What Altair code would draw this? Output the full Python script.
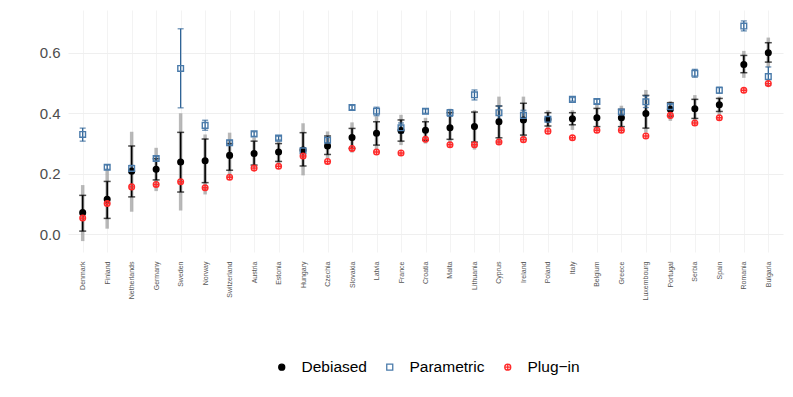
import altair as alt
import pandas as pd

countries = ["Denmark", "Finland", "Netherlands", "Germany", "Sweden", "Norway",
             "Switzerland", "Austria", "Estonia", "Hungary", "Czechia", "Slovakia",
             "Latvia", "France", "Croatia", "Malta", "Lithuania", "Cyprus", "Ireland",
             "Poland", "Italy", "Belgium", "Greece", "Luxembourg", "Portugal", "Serbia",
             "Spain", "Romania", "Bulgaria"]

deb = [0.072, 0.116, 0.209, 0.215, 0.239, 0.243, 0.261, 0.267, 0.272, 0.279, 0.292, 0.320,
       0.334, 0.343, 0.344, 0.352, 0.356, 0.372, 0.378, 0.380, 0.382, 0.385, 0.385, 0.399,
       0.413, 0.415, 0.428, 0.561, 0.600]
deb_lo = [0.011, 0.053, 0.124, 0.180, 0.140, 0.171, 0.212, 0.229, 0.241, 0.226, 0.264, 0.284,
          0.295, 0.308, 0.311, 0.314, 0.305, 0.319, 0.328, 0.358, 0.362, 0.356, 0.356, 0.351,
          0.391, 0.383, 0.406, 0.534, 0.569]
deb_hi = [0.129, 0.175, 0.292, 0.250, 0.337, 0.315, 0.300, 0.308, 0.300, 0.336, 0.325, 0.350,
          0.372, 0.378, 0.372, 0.402, 0.404, 0.424, 0.433, 0.402, 0.402, 0.416, 0.413, 0.459,
          0.435, 0.446, 0.449, 0.591, 0.633]
deb_lo2 = [-0.022, 0.019, 0.075, 0.143, 0.079, 0.132, 0.187, 0.220, 0.232, 0.195, 0.250, 0.270,
           0.280, 0.295, 0.300, 0.300, 0.280, 0.297, 0.310, 0.350, 0.345, 0.345, 0.340, 0.336,
           0.375, 0.370, 0.395, 0.517, 0.551]
deb_hi2 = [0.163, 0.212, 0.339, 0.286, 0.400, 0.330, 0.336, 0.320, 0.310, 0.367, 0.340, 0.370,
           0.390, 0.395, 0.385, 0.415, 0.410, 0.455, 0.455, 0.410, 0.410, 0.430, 0.425, 0.477,
           0.440, 0.460, 0.455, 0.606, 0.650]
par = [0.330, 0.222, 0.218, 0.251, 0.548, 0.360, 0.303, 0.332, 0.318, 0.276, 0.311, 0.419,
       0.407, 0.352, 0.407, 0.402, 0.461, 0.402, 0.393, 0.380, 0.446, 0.439, 0.404, 0.438,
       0.422, 0.532, 0.476, 0.688, 0.521]
par_lo = [0.308, 0.215, 0.205, 0.243, 0.418, 0.344, 0.295, 0.324, 0.312, 0.268, 0.302, 0.412,
          0.392, 0.335, 0.400, 0.390, 0.444, 0.380, 0.375, 0.373, 0.440, 0.432, 0.397, 0.419,
          0.412, 0.519, 0.466, 0.672, 0.492]
par_hi = [0.351, 0.229, 0.228, 0.258, 0.679, 0.377, 0.310, 0.339, 0.324, 0.285, 0.320, 0.426,
          0.420, 0.368, 0.414, 0.412, 0.477, 0.424, 0.410, 0.387, 0.452, 0.446, 0.411, 0.457,
          0.431, 0.545, 0.486, 0.705, 0.553]
plug = [0.054, 0.102, 0.157, 0.165, 0.174, 0.154, 0.189, 0.219, 0.225, 0.259, 0.241, 0.284,
        0.272, 0.269, 0.314, 0.296, 0.296, 0.305, 0.313, 0.341, 0.319, 0.344, 0.344, 0.325,
        0.393, 0.368, 0.385, 0.476, 0.498]

methods = ["Debiased", "Parametric", "Plug\u2212in"]

wide = pd.DataFrame({"country": countries, "deb": deb, "deb_lo": deb_lo, "deb_hi": deb_hi,
                     "deb_lo2": deb_lo2, "deb_hi2": deb_hi2, "par": par, "par_lo": par_lo,
                     "par_hi": par_hi, "plug": plug})

pts = pd.concat([
    pd.DataFrame({"country": countries, "method": methods[0], "value": deb}),
    pd.DataFrame({"country": countries, "method": methods[1], "value": par}),
    pd.DataFrame({"country": countries, "method": methods[2], "value": plug}),
], ignore_index=True)

FONT = "Liberation Sans"
ydom = [-0.058, 0.741]

x = alt.X("country:N", sort=countries, title=None,
          scale=alt.Scale(type="point", padding=0.6),
          axis=alt.Axis(labelAngle=-90, labelFontSize=7, labelColor="#555555", ticks=False,
                        domain=False, labelPadding=9, grid=True, gridColor="#f3f3f3",
                        labelFont=FONT))
ysc = alt.Scale(domain=ydom, nice=False, zero=False)
yaxis = alt.Axis(values=[0, 0.1, 0.2, 0.3, 0.4, 0.5, 0.6, 0.7],
                 labelExpr="round(datum.value*10) % 2 == 0 ? format(datum.value, '.1f') : ''",
                 labelFontSize=15, labelColor="#4d4d4d", ticks=False, domain=False,
                 labelPadding=8, gridColor="#efefef", labelFont=FONT)

base = alt.Chart(wide)

gray = base.mark_rule(color="#8a8a8a", opacity=0.6, strokeWidth=3.5).encode(
    x=x, y=alt.Y("deb_lo2:Q", scale=ysc, axis=yaxis, title=None), y2="deb_hi2:Q")
black = base.mark_rule(color="black", strokeWidth=1.6).encode(
    x=x, y=alt.Y("deb_lo:Q"), y2="deb_hi:Q")
bcap_lo = base.mark_tick(color="black", thickness=1.5, size=7).encode(x=x, y="deb_lo:Q")
bcap_hi = base.mark_tick(color="black", thickness=1.5, size=7).encode(x=x, y="deb_hi:Q")
BLUE = "#2f6497"
blue = base.mark_rule(color=BLUE, strokeWidth=1.3).encode(
    x=x, y=alt.Y("par_lo:Q"), y2="par_hi:Q")
pcap_lo = base.mark_tick(color=BLUE, thickness=1.3, size=6).encode(x=x, y="par_lo:Q")
pcap_hi = base.mark_tick(color=BLUE, thickness=1.3, size=6).encode(x=x, y="par_hi:Q")

circle_plus = "M-1,0A1,1,0,1,1,1,0A1,1,0,1,1,-1,0ZM-1,0L1,0M0,-1L0,1"

points = alt.Chart(pts).mark_point(filled=False, size=32, strokeWidth=1.4, opacity=1).encode(
    x=x,
    y=alt.Y("value:Q"),
    color=alt.Color("method:N", title=None,
                    scale=alt.Scale(domain=methods, range=["black", "#4a7bab", "#ff2a2a"]),
                    legend=alt.Legend(orient="none", legendX=206, legendY=349,
                                      direction="horizontal", labelFontSize=15.5,
                                      labelFont=FONT, labelColor="black", symbolSize=36,
                                      symbolStrokeWidth=1.3, labelOffset=12,
                                      columnPadding=15)),
    fill=alt.Fill("method:N", title=None,
                  scale=alt.Scale(domain=methods, range=["black", "transparent", "transparent"])),
    shape=alt.Shape("method:N", title=None,
                    scale=alt.Scale(domain=methods, range=["circle", "square", circle_plus])),
)

chart = alt.layer(gray, black, bcap_lo, bcap_hi, blue, pcap_lo, pcap_hi, points).properties(
    width=715, height=242,
    autosize=alt.AutoSizeParams(type="none"),
    padding={"left": 60, "top": 2, "right": 2, "bottom": 137},
    background="white",
).configure_view(stroke=None)

chart.save("out.html", embed_options={"renderer": "svg", "actions": False})
